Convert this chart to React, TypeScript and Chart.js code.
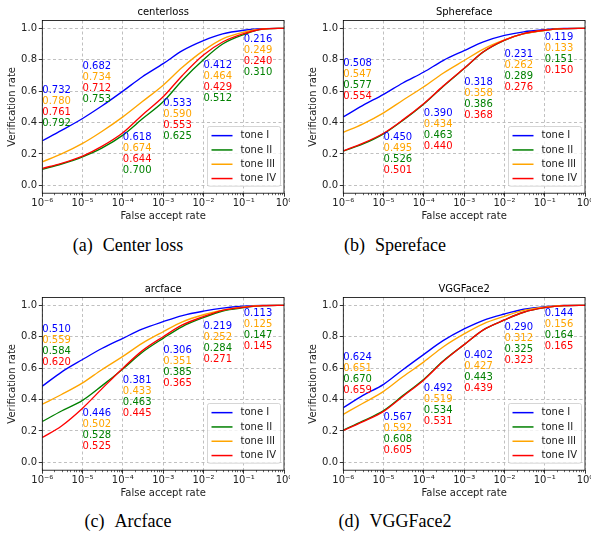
import React, { useEffect, useRef } from 'react';
import { Chart, registerables } from 'chart.js';
Chart.register(...registerables);

// False accept rates at which the curves are sampled
const FAR = [1e-6, 3e-6, 1e-5, 3e-5, 1e-4, 3e-4, 1e-3, 3e-3, 1e-2, 3e-2, 1e-1, 3e-1, 1];
const X_DECADES = [1e-6, 1e-5, 1e-4, 1e-3, 1e-2, 1e-1, 1];
const Y_TICKS = [0, 0.2, 0.4, 0.6, 0.8, 1.0];
const TONES = ['tone I', 'tone II', 'tone III', 'tone IV'];
const LABEL_X = [1e-6, 1e-5, 1e-4, 1e-3, 1e-2, 1e-1];

// (a) centerloss
const CL_I = [0.284, 0.35, 0.426, 0.505, 0.6, 0.69, 0.775, 0.858, 0.922, 0.965, 0.988, 0.998, 1.0];
const CL_II = [0.102, 0.136, 0.182, 0.237, 0.32, 0.422, 0.532, 0.67, 0.8, 0.9, 0.96, 0.995, 1.0];
const CL_III = [0.15, 0.2, 0.267, 0.343, 0.436, 0.532, 0.638, 0.752, 0.858, 0.933, 0.976, 0.997, 1.0];
const CL_IV = [0.108, 0.14, 0.186, 0.248, 0.335, 0.447, 0.564, 0.7, 0.83, 0.913, 0.966, 0.996, 1.0];
const CL_LBL_I = ['0.732', '0.682', '0.618', '0.533', '0.412', '0.216'];
const CL_LBL_II = ['0.792', '0.753', '0.700', '0.625', '0.512', '0.310'];
const CL_LBL_III = ['0.780', '0.734', '0.674', '0.590', '0.464', '0.249'];
const CL_LBL_IV = ['0.761', '0.712', '0.644', '0.553', '0.429', '0.240'];
const CL_LBL_ORDER = [0, 2, 3, 1];
const CL_LBL_TOP = [0.606, 0.758, 0.303, 0.521, 0.763, 0.928];

// (b) Sphereface
const SF_I = [0.436, 0.508, 0.58, 0.652, 0.722, 0.795, 0.858, 0.914, 0.955, 0.978, 0.991, 0.999, 1.0];
const SF_II = [0.218, 0.262, 0.328, 0.413, 0.518, 0.63, 0.744, 0.85, 0.924, 0.966, 0.987, 0.998, 1.0];
const SF_III = [0.337, 0.39, 0.462, 0.542, 0.628, 0.714, 0.795, 0.868, 0.926, 0.965, 0.987, 0.998, 1.0];
const SF_IV = [0.22, 0.267, 0.332, 0.417, 0.522, 0.632, 0.746, 0.851, 0.925, 0.967, 0.988, 0.998, 1.0];
const SF_LBL_I = ['0.508', '0.450', '0.390', '0.318', '0.231', '0.119'];
const SF_LBL_II = ['0.577', '0.526', '0.463', '0.386', '0.289', '0.151'];
const SF_LBL_III = ['0.547', '0.495', '0.434', '0.358', '0.262', '0.133'];
const SF_LBL_IV = ['0.554', '0.501', '0.440', '0.368', '0.276', '0.150'];
const SF_LBL_ORDER = [0, 2, 1, 3];
const SF_LBL_TOP = [0.775, 0.307, 0.46, 0.653, 0.835, 0.943];

// (c) arcface
const AF_I = [0.485, 0.575, 0.655, 0.725, 0.79, 0.848, 0.896, 0.935, 0.963, 0.982, 0.994, 0.999, 1.0];
const AF_II = [0.26, 0.327, 0.395, 0.487, 0.595, 0.7, 0.79, 0.865, 0.922, 0.964, 0.985, 0.998, 1.0];
const AF_III = [0.37, 0.432, 0.506, 0.59, 0.675, 0.758, 0.832, 0.895, 0.94, 0.97, 0.99, 0.999, 1.0];
const AF_IV = [0.158, 0.232, 0.345, 0.468, 0.6, 0.71, 0.8, 0.875, 0.928, 0.968, 0.987, 0.998, 1.0];
const AF_LBL_I = ['0.510', '0.446', '0.381', '0.306', '0.219', '0.113'];
const AF_LBL_II = ['0.584', '0.528', '0.463', '0.385', '0.284', '0.147'];
const AF_LBL_III = ['0.559', '0.502', '0.433', '0.351', '0.252', '0.125'];
const AF_LBL_IV = ['0.620', '0.525', '0.445', '0.365', '0.271', '0.145'];
const AF_LBL_ORDER = [0, 2, 1, 3];
const AF_LBL_TOP = [0.846, 0.314, 0.523, 0.715, 0.867, 0.947];

// (d) VGGFace2
const VG_I = [0.348, 0.425, 0.497, 0.59, 0.688, 0.775, 0.85, 0.905, 0.945, 0.975, 0.992, 0.999, 1.0];
const VG_II = [0.205, 0.262, 0.33, 0.425, 0.53, 0.645, 0.75, 0.844, 0.907, 0.956, 0.985, 0.998, 1.0];
const VG_III = [0.306, 0.375, 0.452, 0.545, 0.64, 0.735, 0.818, 0.882, 0.93, 0.968, 0.989, 0.999, 1.0];
const VG_IV = [0.203, 0.258, 0.325, 0.42, 0.525, 0.642, 0.75, 0.844, 0.907, 0.956, 0.985, 0.998, 1.0];
const VG_LBL_I = ['0.624', '0.567', '0.492', '0.402', '0.290', '0.144'];
const VG_LBL_II = ['0.670', '0.608', '0.534', '0.443', '0.325', '0.164'];
const VG_LBL_III = ['0.651', '0.592', '0.519', '0.427', '0.312', '0.156'];
const VG_LBL_IV = ['0.659', '0.605', '0.531', '0.439', '0.323', '0.165'];
const VG_LBL_ORDER = [0, 2, 1, 3];
const VG_LBL_TOP = [0.669, 0.285, 0.47, 0.681, 0.859, 0.947];

const LABEL_STEP = 0.0699;

const COLORS = ['#0000ff', '#008000', '#ffa500', '#ff0000'];
const FONT = '"DejaVu Sans", sans-serif';
const TEXT = '#222222';

const PANELS = [
  { title: 'centerloss', caption: '(a)', name: 'Center loss', series: [CL_I, CL_II, CL_III, CL_IV], labels: [CL_LBL_I, CL_LBL_II, CL_LBL_III, CL_LBL_IV], order: CL_LBL_ORDER, tops: CL_LBL_TOP },
  { title: 'Sphereface', caption: '(b)', name: 'Spereface', series: [SF_I, SF_II, SF_III, SF_IV], labels: [SF_LBL_I, SF_LBL_II, SF_LBL_III, SF_LBL_IV], order: SF_LBL_ORDER, tops: SF_LBL_TOP },
  { title: 'arcface', caption: '(c)', name: 'Arcface', series: [AF_I, AF_II, AF_III, AF_IV], labels: [AF_LBL_I, AF_LBL_II, AF_LBL_III, AF_LBL_IV], order: AF_LBL_ORDER, tops: AF_LBL_TOP },
  { title: 'VGGFace2', caption: '(d)', name: 'VGGFace2', series: [VG_I, VG_II, VG_III, VG_IV], labels: [VG_LBL_I, VG_LBL_II, VG_LBL_III, VG_LBL_IV], order: VG_LBL_ORDER, tops: VG_LBL_TOP },
];

const SUP: Record<string, string> = { '-': '\u207B', '0': '\u2070', '1': '\u00B9', '2': '\u00B2', '3': '\u00B3', '4': '\u2074', '5': '\u2075', '6': '\u2076', '7': '\u2077', '8': '\u2078', '9': '\u2079' };
const decadeLabel = (v: number) => {
  const e = String(Math.round(Math.log10(v)));
  return '10' + e.split('').map((c) => SUP[c] || c).join('');
};

const CW = 290;
const CH = 228;

const decorPlugin = {
  id: 'decor',
  afterDatasetsDraw(chart: any, _args: any, opts: any) {
    const { ctx, chartArea: ca, scales } = chart;
    const xs = scales.x;
    const ys = scales.y;
    ctx.save();
    // annotations
    ctx.font = `10px ${FONT}`;
    ctx.textAlign = 'left';
    ctx.textBaseline = 'middle';
    for (const a of opts.items) {
      ctx.fillStyle = a.color;
      ctx.fillText(a.text, xs.getPixelForValue(a.x), ys.getPixelForValue(a.y));
    }
    // spines
    ctx.strokeStyle = '#000';
    ctx.lineWidth = 0.8;
    ctx.strokeRect(ca.left, ca.top, ca.right - ca.left, ca.bottom - ca.top);
    // minor ticks
    ctx.lineWidth = 0.6;
    ctx.beginPath();
    for (let n = -6; n < 0; n++) {
      for (let k = 2; k <= 9; k++) {
        const px = Math.round(xs.getPixelForValue(k * Math.pow(10, n))) + 0.5;
        ctx.moveTo(px, ca.bottom);
        ctx.lineTo(px, ca.bottom + 2);
      }
    }
    ctx.stroke();
    // legend
    const ds = chart.data.datasets;
    const tw = Math.max(...ds.map((d: any) => ctx.measureText(d.label).width));
    const rowH = 14.3;
    const w = 33 + tw + 4.5;
    const h = ds.length * rowH + 2.5;
    const bx = ca.right - 3.5 - w;
    const by = ca.bottom - 7 - h;
    ctx.beginPath();
    ctx.roundRect(bx, by, w, h, 2);
    ctx.fillStyle = 'rgba(255,255,255,0.8)';
    ctx.fill();
    ctx.strokeStyle = '#cccccc';
    ctx.lineWidth = 0.8;
    ctx.stroke();
    ds.forEach((d: any, i: number) => {
      const cy = by + 2 + rowH * (i + 0.5);
      ctx.beginPath();
      ctx.strokeStyle = d.borderColor;
      ctx.lineWidth = 1.5;
      ctx.moveTo(bx + 4, cy);
      ctx.lineTo(bx + 25, cy);
      ctx.stroke();
      ctx.fillStyle = TEXT;
      ctx.fillText(d.label, bx + 33, cy);
    });
    ctx.restore();
  },
};

function Panel({ p, left, top }: { p: any; left: number; top: number }) {
  const ref = useRef<HTMLCanvasElement>(null);
  useEffect(() => {
    if (!ref.current) return;
    const datasets = TONES.map((t, i) => ({
      label: t,
      data: FAR.map((x, j) => ({ x, y: p.series[i][j] })),
      borderColor: COLORS[i],
      backgroundColor: COLORS[i],
      borderWidth: 1.35,
      pointRadius: 0,
      fill: false,
      cubicInterpolationMode: 'monotone',
      order: TONES.length - i,
    }));
    const items: any[] = [];
    LABEL_X.forEach((x, g) => {
      p.order.forEach((tone: number, r: number) => {
        items.push({ x, y: p.tops[g] - r * LABEL_STEP, text: p.labels[tone][g], color: COLORS[tone] });
      });
    });
    const tickFont = { family: FONT, size: 10 };
    const chart = new Chart(ref.current, {
      type: 'line',
      data: { datasets } as any,
      plugins: [decorPlugin],
      options: {
        responsive: false,
        animation: false,
        devicePixelRatio: 1,
        layout: { padding: { left: 0, right: 6, top: 0, bottom: 0 } },
        plugins: {
          legend: { display: false },
          tooltip: { enabled: false },
          title: {
            display: true,
            text: p.title,
            fullSize: false,
            color: '#000',
            font: { family: FONT, size: 10, weight: 'normal' },
            padding: { top: 6.7, bottom: 1.8 },
          },
          decor: { items },
        } as any,
        scales: {
          x: {
            type: 'logarithmic',
            min: 1e-6,
            max: 1,
            afterBuildTicks: (s: any) => {
              s.ticks = X_DECADES.map((v) => ({ value: v }));
            },
            afterFit: (s: any) => {
              s.height = 34.8;
              s.paddingLeft = 0;
              s.paddingRight = 0;
            },
            ticks: {
              autoSkip: false,
              maxRotation: 0,
              minRotation: 0,
              padding: 1,
              color: TEXT,
              font: tickFont,
              callback: (v: any) => decadeLabel(Number(v)),
            },
            grid: { color: '#b0b0b0', lineWidth: 0.8, tickLength: 3.5, tickColor: '#000', tickWidth: 0.8 },
            border: { display: false, dash: [3, 2.5] },
            title: { display: true, text: 'False accept rate', color: TEXT, font: tickFont, padding: { top: 0, bottom: 6 } },
          },
          y: {
            type: 'linear',
            min: -0.05,
            max: 1.05,
            afterBuildTicks: (s: any) => {
              s.ticks = Y_TICKS.map((v) => ({ value: v }));
            },
            afterFit: (s: any) => {
              s.width = 42.3;
              s.paddingTop = 0;
              s.paddingBottom = 0;
            },
            ticks: {
              padding: 1.8,
              color: TEXT,
              font: tickFont,
              callback: (v: any) => Number(v).toFixed(1),
            },
            grid: { color: '#b0b0b0', lineWidth: 0.8, tickLength: 3.5, tickColor: '#000', tickWidth: 0.8 },
            border: { display: false, dash: [3, 2.5] },
            title: { display: true, text: 'Verification rate', color: TEXT, font: tickFont, padding: { top: 6.7, bottom: 0 } },
          },
        },
      } as any,
    });
    return () => chart.destroy();
  }, [p]);
  return (
    <canvas ref={ref} width={CW} height={CH} style={{ position: 'absolute', left, top, width: CW, height: CH }} />
  );
}

function Caption({ label, name, cx, top }: { label: string; name: string; cx: number; top: number }) {
  return (
    <div
      style={{
        position: 'absolute',
        left: cx - 120,
        top,
        width: 240,
        textAlign: 'center',
        fontFamily: '"Liberation Serif", "Times New Roman", serif',
        fontSize: 18,
        lineHeight: '22px',
        color: '#000',
        whiteSpace: 'pre',
      }}
    >
      {label}
      <span style={{ display: 'inline-block', width: 10 }} />
      {name}
    </div>
  );
}

export default function App() {
  const pos = [
    { left: 0, top: 0, cx: 128, capTop: 234 },
    { left: 301, top: 0, cx: 395, capTop: 234 },
    { left: 0, top: 277, cx: 128, capTop: 509.5 },
    { left: 301, top: 277, cx: 395, capTop: 509.5 },
  ];
  return (
    <div style={{ position: 'absolute', left: 0, top: 0, width: 591, height: 535, background: '#fff', overflow: 'hidden' }}>
      {PANELS.map((p, i) => (
        <React.Fragment key={p.title}>
          <Panel p={p} left={pos[i].left} top={pos[i].top} />
          <Caption label={p.caption} name={p.name} cx={pos[i].cx} top={pos[i].capTop} />
        </React.Fragment>
      ))}
    </div>
  );
}
